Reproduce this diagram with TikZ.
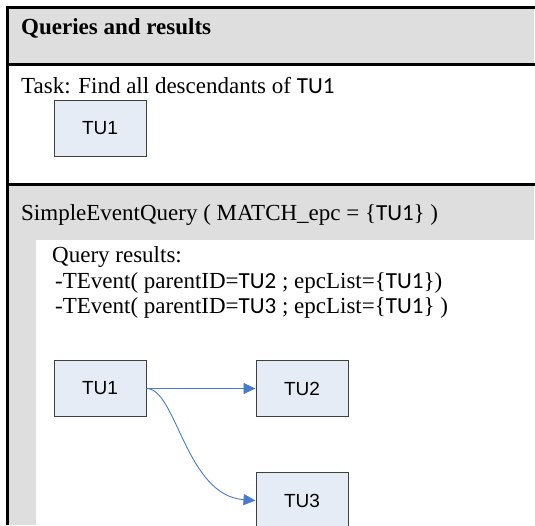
\documentclass[tikz,border=0pt]{standalone}
\usepackage{fontspec}
\setmainfont{Liberation Serif}
\setsansfont{Liberation Sans}
\newfontfamily\tufont{Carlito}
\newcommand{\tu}[1]{{\tufont TU#1}}
\usetikzlibrary{arrows.meta}
\definecolor{bandgray}{HTML}{DEDEDE}
\definecolor{boxfill}{HTML}{E6ECF6}
\definecolor{boxline}{HTML}{404040}
\definecolor{linkblue}{HTML}{4A7BC8}
\tikzset{
  tubox/.style={draw=boxline, fill=boxfill, line width=1pt, minimum width=92pt,
    minimum height=56pt, inner sep=0pt, font=\sffamily\fontsize{19}{19}\selectfont},
  txt/.style={anchor=base west, inner sep=0pt, font=\fontsize{23}{26}\selectfont},
  link/.style={draw=linkblue, line width=0.9pt, -{Triangle[length=12pt,width=11pt]}},
  rule/.style={line width=3pt, line join=miter}
}
\begin{document}
\begin{tikzpicture}[x=1pt,y=-1pt]
\useasboundingbox (0,0) rectangle (535,525);
% grey bands
\fill[bandgray] (9,9) rectangle (534,63);
\fill[bandgray] (9,186) rectangle (534,240);
\fill[bandgray] (9,240) rectangle (36,525);

% frame
\draw[rule] (7.5,525) -- (7.5,7.5) -- (535,7.5);
\draw[rule] (7.5,64.5) -- (535,64.5);
\draw[rule] (7.5,184.5) -- (535,184.5);

% task
\node[txt, font=\bfseries\fontsize{23}{26}\selectfont] (title) at (21,34) {Queries and results};
\node[txt] (task) at (21,93) {Task: Find all descendants of \tu1};
\node[tubox] (tuA) at (100,128) {TU1};

% query and its results
\node[txt] (query) at (21,220) {SimpleEventQuery ( MATCH\_epc = \{\tu1\} )};
\node[txt] (reshead) at (52,262) {Query results:};
\node[txt] (resA) at (55,288) {-TEvent( parentID=\tu2 ; epcList=\{\tu1\})};
\node[txt] (resB) at (55,313) {-TEvent( parentID=\tu3 ; epcList=\{\tu1\} )};

\node[tubox] (tuB) at (100,388.5) {TU1};
\node[tubox] (tuC) at (302,388.5) {TU2};
\node[tubox] (tuD) at (302,500.5) {TU3};
\draw[link] (tuB.east) -- (tuC.west);
\draw[link] (tuB.east) .. controls +(30,0) and +(-70,-5) .. (tuD.west);
\end{tikzpicture}
\end{document}
